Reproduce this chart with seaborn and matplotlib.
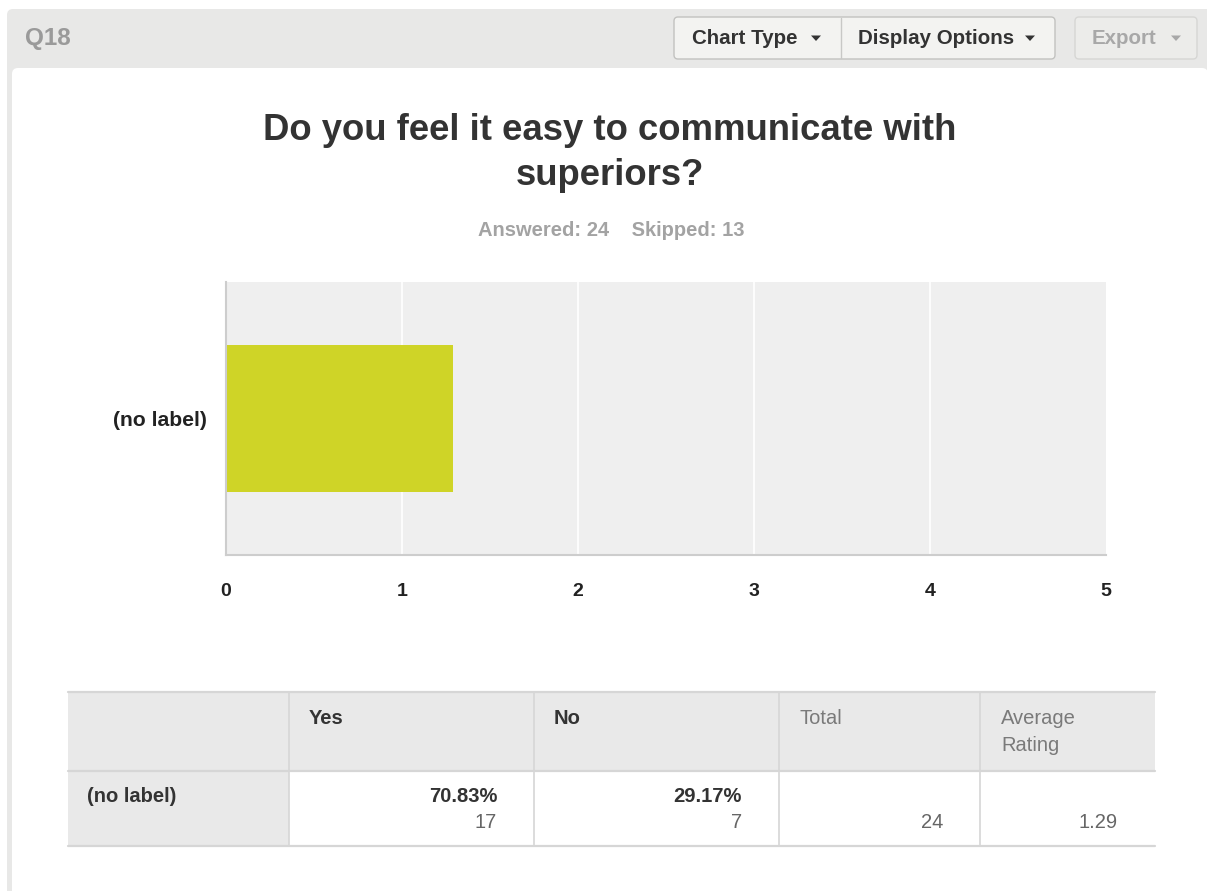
import matplotlib
matplotlib.use("Agg")
import matplotlib.pyplot as plt
from matplotlib.patches import FancyBboxPatch, Rectangle, Polygon
import seaborn as sns

# ---- survey data ----
question_id = "Q18"
question_title = "Do you feel it easy to communicate with\nsuperiors?"
answered = 24
skipped = 13
categories = ["(no label)"]
average_rating = [1.29]
x_ticks = [0, 1, 2, 3, 4, 5]
answer_labels = ["Yes", "No"]
answer_pcts = [70.83, 29.17]
answer_counts = [17, 7]
total_responses = 24

W, H = 1207, 891
sns.set_theme(style="white")
plt.rcParams["font.family"] = ["Liberation Sans", "DejaVu Sans"]

fig = plt.figure(figsize=(W / 100, H / 100), dpi=100)
fig.patch.set_facecolor("white")

# full-figure canvas in pixel units for the page chrome
bg = fig.add_axes([0, 0, 1, 1], zorder=0)
bg.set_xlim(0, W)
bg.set_ylim(H, 0)
bg.axis("off")


def rbox(x0, y0, x1, y1, fc, ec="none", lw=0, r=5, z=1):
    p = FancyBboxPatch((x0 + r, y0 + r), (x1 - x0) - 2 * r, (y1 - y0) - 2 * r,
                       boxstyle=f"round,pad={r}", fc=fc, ec=ec, lw=lw, zorder=z)
    bg.add_patch(p)


def arrow(cx, cy, color):
    bg.add_patch(Polygon([[cx - 5, cy - 2.5], [cx + 5, cy - 2.5], [cx, cy + 3]],
                         closed=True, fc=color, ec="none", zorder=5))


# gray question panel and white content card
rbox(7, 9, W + 20, H + 20, "#e8e8e7", r=6, z=1)
rbox(12, 68, W + 1, H + 20, "white", r=6, z=2)

bg.text(25, 38, question_id, fontsize=17.5, fontweight="bold", color="#9a9a9a",
        ha="left", va="center", zorder=5)

# toolbar buttons
rbox(674, 17, 1055, 59, "#f3f3f1", ec="#c2c2c0", lw=1, r=4, z=3)
bg.plot([841, 841], [18, 58], color="#c8c8c6", lw=1, zorder=4)
bg.text(692, 38, "Chart Type", fontsize=14.8, fontweight="bold", color="#333333",
        ha="left", va="center", zorder=5)
arrow(816, 38, "#333333")
bg.text(858, 38, "Display Options", fontsize=14.8, fontweight="bold", color="#333333",
        ha="left", va="center", zorder=5)
arrow(1030, 38, "#333333")
rbox(1075, 17, 1197, 59, "#ececea", ec="#d6d6d4", lw=1, r=4, z=3)
bg.text(1092, 38, "Export", fontsize=14.8, fontweight="bold", color="#a8a8a8",
        ha="left", va="center", zorder=5)
arrow(1176, 38, "#a8a8a8")

# title and response summary
bg.text(610, 153, question_title, fontsize=26.3, fontweight="bold", color="#333333",
        ha="center", va="center", linespacing=1.37, zorder=5)
bg.text(611, 231, f"Answered: {answered}    Skipped: {skipped}", fontsize=14.5,
        fontweight="bold", color="#a3a3a3", ha="center", va="center", zorder=5)

# ---- bar chart of the average rating ----
ax = fig.add_axes([226 / W, 1 - 555 / H, 880 / W, 273 / H], zorder=5)
sns.barplot(x=average_rating, y=categories, orient="h", color="#cfd427",
            saturation=1, width=0.535, linewidth=0, ax=ax, zorder=2)
ax.set_facecolor("#efefef")
ax.set_xlim(x_ticks[0], x_ticks[-1])
ax.set_ylim(0.5, -0.5)
ax.set_xticks(x_ticks)
ax.set_xticklabels([str(t) for t in x_ticks], fontsize=14, fontweight="bold",
                   color="#222222")
ax.set_yticklabels(categories, fontsize=15.2, fontweight="bold", color="#222222")
ax.tick_params(axis="x", length=0, pad=20)
ax.tick_params(axis="y", length=0, pad=14)
for t in x_ticks[1:-1]:
    ax.axvline(t, color="white", lw=1.2, zorder=1)
ax.set_xlabel("")
ax.set_ylabel("")
for side in ["top", "right"]:
    ax.spines[side].set_visible(False)
for side in ["left", "bottom"]:
    ax.spines[side].set_color("#cdcdcd")
    ax.spines[side].set_linewidth(1.5)

# ---- summary table ----
col_x = [68, 289, 534, 779, 980, 1155]
row_y = [692, 771, 846]
gray = "#e9e9e9"
line = "#d6d6d6"
fs = 14.5
bg.add_patch(Rectangle((col_x[0], row_y[0]), col_x[-1] - col_x[0], row_y[1] - row_y[0],
                       fc=gray, ec="none", zorder=3))
bg.add_patch(Rectangle((col_x[0], row_y[1]), col_x[1] - col_x[0], row_y[2] - row_y[1],
                       fc=gray, ec="none", zorder=3))
for y in row_y:
    bg.plot([col_x[0], col_x[-1]], [y, y], color=line, lw=1.6, zorder=4)
for x in col_x[1:-1]:
    bg.plot([x, x], [row_y[0], row_y[2]], color=line, lw=1.2, zorder=4)

hdr_kw = dict(fontsize=fs, ha="left", va="center", zorder=5)
for i, lab in enumerate(answer_labels):
    bg.text(col_x[1 + i] + 20, 719, lab, fontweight="bold", color="#333333", **hdr_kw)
bg.text(col_x[3] + 21, 719, "Total", color="#7a7a7a", **hdr_kw)
bg.text(col_x[4] + 21, 732, "Average\nRating", color="#7a7a7a", linespacing=1.55, **hdr_kw)

bg.text(col_x[0] + 19, 797, categories[0], fontsize=fs, fontweight="bold",
        color="#333333", ha="left", va="center", zorder=5)
for i, (p, c) in enumerate(zip(answer_pcts, answer_counts)):
    xr = col_x[2 + i] - 37
    bg.text(xr, 797, f"{p:.2f}%", fontsize=fs, fontweight="bold", color="#333333",
            ha="right", va="center", zorder=5)
    bg.text(xr, 822, str(c), fontsize=fs, color="#666666",
            ha="right", va="center", zorder=5)
bg.text(col_x[4] - 37, 822, str(total_responses), fontsize=fs, color="#666666",
        ha="right", va="center", zorder=5)
bg.text(col_x[5] - 37, 822, f"{average_rating[0]:.2f}", fontsize=fs, color="#666666",
        ha="right", va="center", zorder=5)

fig.savefig("out.png", dpi=100, facecolor="white")
